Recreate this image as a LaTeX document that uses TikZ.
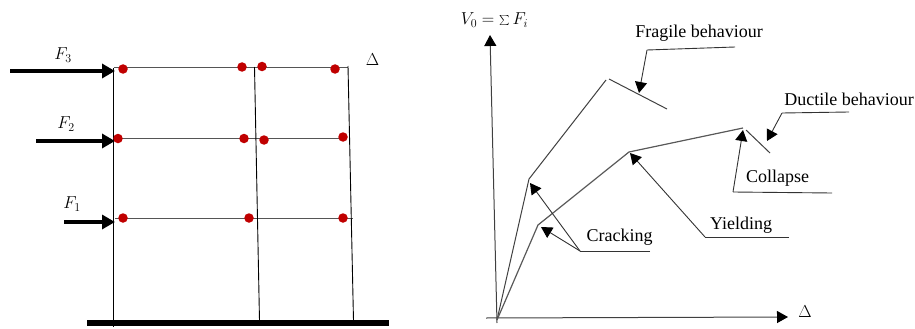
\documentclass[tikz,border=0pt]{standalone}
\usepackage{fontspec}
\setmainfont{Liberation Serif}
\usetikzlibrary{arrows.meta}
\definecolor{dotred}{HTML}{C00000}
\definecolor{beam}{HTML}{555555}
\tikzset{
  x=1pt,y=-1pt,
  column/.style={black,line width=0.9pt},
  floorbeam/.style={beam,line width=1pt},
  ground/.style={black,line width=5.5pt},
  force/.style={black,line width=4.5pt,-{Triangle[length=13pt,width=14pt]},shorten >=-1pt},
  hinge/.style={circle,fill=dotred,inner sep=0pt,minimum size=9.5pt},
  curve/.style={black!75,line width=1pt,line join=miter},
  curveb/.style={black!65,line width=1.2pt,line join=miter},
  axisline/.style={black!75,line width=1pt,-{Triangle[length=11pt,width=12pt,color=black]}},
  leader/.style={black!80,line width=0.9pt},
  pointer/.style={black!80,line width=0.9pt,-{Triangle[length=11pt,width=12pt,color=black]}},
  lab/.style={inner sep=0pt,font=\fontsize{18}{20}\selectfont},
  mathlab/.style={inner sep=0pt,font=\fontsize{17}{19}\selectfont},
}
\begin{document}
\begin{tikzpicture}
\useasboundingbox (0,0) rectangle (915,329);
% frame coordinates
\coordinate (c1t) at (113.5,68); \coordinate (c1b) at (113.5,327);
\coordinate (c2t) at (254.5,67); \coordinate (c2b) at (259.5,321);
\coordinate (c3t) at (348,66);   \coordinate (c3b) at (353.5,321);
\coordinate (b3l) at (114,67.7); \coordinate (b3r) at (348,67.7);
\coordinate (b2l) at (114,138.5);\coordinate (b2r) at (343,138.5);
\coordinate (b1l) at (115,218);  \coordinate (b1r) at (353,218);
\coordinate (gl) at (87,323);    \coordinate (gr) at (389,323);
\draw[floorbeam] (b3l) -- (b3r);
\draw[floorbeam] (b2l) -- (b2r);
\draw[floorbeam] (b1l) -- (b1r);
\draw[column] (c1t) -- (c1b);
\draw[column] (c2t) -- (c2b);
\draw[column] (c3t) -- (c3b);
\draw[ground] (gl) -- (gr);
% forces
\coordinate (f3s) at (10,71);  \coordinate (f3e) at (114,71);
\coordinate (f2s) at (36,141); \coordinate (f2e) at (114,141);
\coordinate (f1s) at (64,222); \coordinate (f1e) at (114,222);
\draw[force] (f3s) -- (f3e);
\draw[force] (f2s) -- (f2e);
\draw[force] (f1s) -- (f1e);
\node[mathlab] (lf3) at (63,55) {$F_3$};
\node[mathlab] (lf2) at (66,124) {$F_2$};
\node[mathlab] (lf1) at (72,204) {$F_1$};
\node[mathlab] (ldelta) at (372.5,60) {$\Delta$};
% hinges
\node[hinge] (h1) at (123,69) {};
\node[hinge] (h2) at (242,67) {};
\node[hinge] (h3) at (262,66.5) {};
\node[hinge] (h4) at (335,69) {};
\node[hinge] (h5) at (118,138.5) {};
\node[hinge] (h6) at (244,138.5) {};
\node[hinge] (h7) at (264,140) {};
\node[hinge] (h8) at (343,137) {};
\node[hinge] (h9) at (123,218) {};
\node[hinge] (h10) at (249,218) {};
\node[hinge] (h11) at (343,218) {};
% axes
\coordinate (yb) at (497,323); \coordinate (yt) at (490,35);
\coordinate (xl) at (486,318); \coordinate (xr) at (788,317);
\draw[axisline] (yb) -- (yt);
\draw[axisline] (xl) -- (xr);
\node[mathlab] (ly) at (494.5,20) {$V_0=\sum F_i$};
\node[mathlab] (lx) at (805,312) {$\Delta$};
% curves
\coordinate (o) at (497,320);
\coordinate (ca) at (529,179); \coordinate (fa) at (606,80);
\coordinate (fb) at (609,79);  \coordinate (fc) at (667,109);
\coordinate (cb) at (538,225); \coordinate (ya) at (629,152);
\coordinate (ua) at (743,128); \coordinate (da) at (746,130);
\coordinate (db) at (770,153);
\draw[curve] (o) -- (ca) -- (fa);
\draw[curve] (fb) -- (fc);
\draw[curveb] (o) -- (cb) -- (ya) -- (ua);
\draw[curve] (da) -- (db);
% labels
\node[lab] (tfrag) at (699,33) {Fragile behaviour};
\node[lab] (tduct) at (849,99) {Ductile behaviour};
\node[lab] (tcoll) at (777.5,178) {Collapse};
\node[lab] (tyield) at (741,225) {Yielding};
\node[lab] (tcrack) at (619.5,237) {Cracking};
% leaders
\coordinate (l1a) at (735,47);  \coordinate (l1b) at (647,50);  \coordinate (l1t) at (639,93);
\coordinate (l2a) at (849,112); \coordinate (l2b) at (782,113); \coordinate (l2t) at (767,141);
\coordinate (l3a) at (832,193); \coordinate (l3b) at (733,192); \coordinate (l3t) at (743,130);
\coordinate (l4a) at (789,237); \coordinate (l4b) at (705,237); \coordinate (l4t) at (630,153);
\coordinate (l5a) at (650,251); \coordinate (l5b) at (580,251);
\coordinate (l5t) at (530,183); \coordinate (l5u) at (541,227);
\draw[leader] (l1a) -- (l1b); \draw[pointer] (l1b) -- (l1t);
\draw[leader] (l2a) -- (l2b); \draw[pointer] (l2b) -- (l2t);
\draw[leader] (l3a) -- (l3b); \draw[pointer] (l3b) -- (l3t);
\draw[leader] (l4a) -- (l4b); \draw[pointer] (l4b) -- (l4t);
\draw[leader] (l5a) -- (l5b); \draw[pointer] (l5b) -- (l5t); \draw[pointer] (l5b) -- (l5u);
\end{tikzpicture}
\end{document}
